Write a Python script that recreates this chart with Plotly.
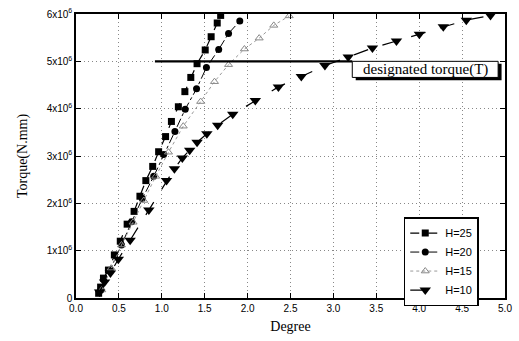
import plotly.graph_objects as go

# H=25 (squares)
h25_x = [0.264, 0.287, 0.32, 0.378, 0.447, 0.516, 0.596, 0.677, 0.745, 0.814, 0.894, 0.963,
         1.044, 1.112, 1.193, 1.269, 1.338, 1.411, 1.506, 1.575, 1.646, 1.686]
h25_y = [0.10, 0.23, 0.42, 0.59, 0.91, 1.20, 1.56, 1.83, 2.15, 2.48, 2.78, 3.09,
         3.41, 3.73, 4.04, 4.36, 4.66, 4.95, 5.24, 5.52, 5.81, 5.97]
# H=20 (circles)
h20_x = [0.29, 0.40, 0.53, 0.65, 0.772, 0.906, 1.021, 1.153, 1.273, 1.405, 1.52, 1.663, 1.778, 1.909]
h20_y = [0.17, 0.59, 1.12, 1.61, 2.10, 2.57, 3.03, 3.52, 3.99, 4.42, 4.87, 5.25, 5.59, 5.85]
# H=15 (open triangles)
h15_x = [0.30, 0.41, 0.53, 0.665, 0.79, 0.929, 1.078, 1.25, 1.453, 1.614, 1.778, 1.963, 2.135, 2.305, 2.485]
h15_y = [0.17, 0.63, 1.12, 1.60, 2.06, 2.57, 3.08, 3.63, 4.15, 4.57, 4.93, 5.26, 5.49, 5.76, 5.96]
# H=10 (down triangles)
h10_x = [0.275, 0.333, 0.401, 0.493, 0.631, 0.849, 1.055, 1.147, 1.239, 1.325, 1.411, 1.525,
         1.651, 1.827, 2.09, 2.359, 2.626, 2.901, 3.173, 3.455, 3.735, 4.002, 4.281, 4.549, 4.831]
h10_y = [0.126, 0.337, 0.526, 0.82, 1.22, 1.86, 2.48, 2.73, 2.96, 3.12, 3.29, 3.47,
         3.65, 3.88, 4.17, 4.46, 4.68, 4.91, 5.09, 5.28, 5.43, 5.57, 5.73, 5.87, 5.97]

designated_torque = 5.0
line_x = [0.92, 3.22]

x_ticks = [0.0, 0.5, 1.0, 1.5, 2.0, 2.5, 3.0, 3.5, 4.0, 4.5, 5.0]
x_labels = ["0.0", "0.5", "1.0", "1.5", "2.0", "2.5", "3.0", "3.5", "4.0", "4.5", "5.0"]
y_ticks = [0, 1, 2, 3, 4, 5, 6]
y_labels = ["0", "1x10<sup>6</sup>", "2x10<sup>6</sup>", "3x10<sup>6</sup>",
            "4x10<sup>6</sup>", "5x10<sup>6</sup>", "6x10<sup>6</sup>"]

S = 1e6
fig = go.Figure()
fig.add_trace(go.Scatter(x=h25_x, y=[v * S for v in h25_y], name="H=25", mode="lines+markers",
                         line=dict(color="black", width=1.2, dash="dash"),
                         marker=dict(symbol="square", size=7, color="black")))
fig.add_trace(go.Scatter(x=h20_x, y=[v * S for v in h20_y], name="H=20", mode="lines+markers",
                         line=dict(color="black", width=1, dash="dashdot"),
                         marker=dict(symbol="circle", size=7, color="black")))
fig.add_trace(go.Scatter(x=h15_x, y=[v * S for v in h15_y], name="H=15", mode="lines+markers",
                         line=dict(color="#999999", width=1, dash="dot"),
                         marker=dict(symbol="triangle-up-open", size=7, color="#888888")))
fig.add_trace(go.Scatter(x=h10_x, y=[v * S for v in h10_y], name="H=10", mode="lines+markers",
                         line=dict(color="black", width=1.2, dash="longdash"),
                         marker=dict(symbol="triangle-down", size=10, color="black")))
fig.add_trace(go.Scatter(x=line_x, y=[designated_torque * S] * 2, mode="lines",
                         line=dict(color="black", width=2.2), showlegend=False, hoverinfo="skip"))

# label box with shadow
fig.add_shape(type="rect", xref="x", yref="y", x0=3.26, x1=4.96, y0=4.60 * S, y1=4.95 * S,
              fillcolor="black", line=dict(width=0), layer="above")
fig.add_shape(type="rect", xref="x", yref="y", x0=3.22, x1=4.92, y0=4.66 * S, y1=5.0 * S,
              fillcolor="white", line=dict(color="black", width=1), layer="above")
fig.add_annotation(x=4.07, y=4.83 * S, xref="x", yref="y", text="designated torque(T)",
                   showarrow=False, font=dict(family="Liberation Serif", size=15, color="black"))

grid = dict(showgrid=True, gridcolor="#888888", griddash="1px,3px", gridwidth=1)
fig.update_xaxes(range=[0, 5], tickvals=x_ticks, ticktext=x_labels, showline=True,
                 linecolor="black", linewidth=1.5, mirror="ticks", ticks="inside", ticklen=5,
                 tickcolor="black", zeroline=False,
                 tickfont=dict(family="Liberation Sans", size=10, color="black"),
                 title=dict(text="Degree", font=dict(family="Liberation Serif", size=14, color="black"),
                            standoff=8), **grid)
fig.update_yaxes(range=[0, 6 * S], tickvals=[v * S for v in y_ticks], ticktext=y_labels, showline=True,
                 linecolor="black", linewidth=1.5, mirror="ticks", ticks="inside", ticklen=5,
                 tickcolor="black", zeroline=False,
                 tickfont=dict(family="Liberation Sans", size=10, color="black"),
                 title=dict(text="Torque(N.mm)", font=dict(family="Liberation Serif", size=14, color="black"),
                            standoff=16), **grid)

fig.update_layout(
    width=519, height=341, margin=dict(l=76, r=7, t=13, b=43),
    plot_bgcolor="white", paper_bgcolor="white",
    legend=dict(x=0.764, y=0.285, xanchor="left", yanchor="top", bgcolor="white",
                bordercolor="black", borderwidth=1.5,
                font=dict(family="Liberation Sans", size=11, color="black"),
                tracegroupgap=0, itemwidth=30),
)
fig.write_html("out.html")
